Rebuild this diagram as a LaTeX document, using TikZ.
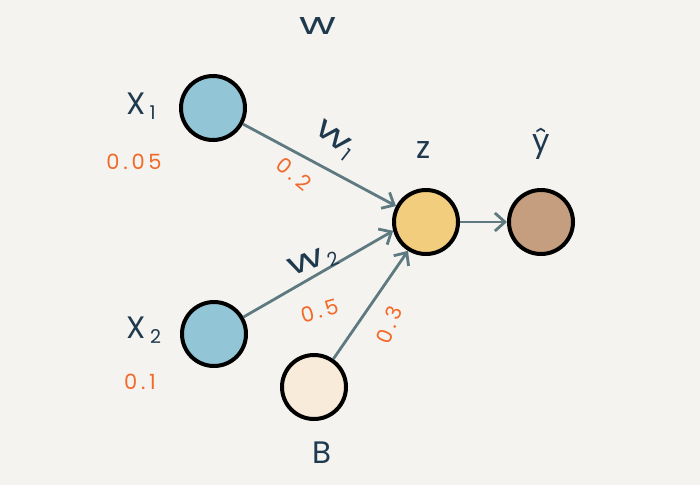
\documentclass[tikz,border=0pt]{standalone}
\usepackage{fontspec}
\setmainfont{Poppins}
\usetikzlibrary{arrows.meta}
\definecolor{bg}{HTML}{F4F3EF}
\definecolor{xblue}{HTML}{92C5D5}
\definecolor{zyel}{HTML}{F3CD7E}
\definecolor{ybrown}{HTML}{C49E7E}
\definecolor{bcream}{HTML}{F8EBD9}
\definecolor{edgec}{HTML}{5E7A80}
\definecolor{navy}{HTML}{1F3A4F}
\definecolor{orng}{HTML}{F26A2A}
\tikzset{
  neuron/.style={circle, draw=black, line width=4pt, minimum size=64pt, inner sep=0pt},
  conn/.style={draw=edgec, line width=2.8pt, -{Straight Barb[length=10pt,width=18pt,line width=2.8pt]}},
  lbl/.style={text=navy, font=\fontsize{31}{31}\selectfont, inner sep=0pt},
  num/.style={text=orng, font=\fontsize{21}{21}\selectfont\addfontfeature{LetterSpace=18}, inner sep=0pt},
}
\newcommand{\sbs}[1]{\raisebox{-0.3ex}{\fontsize{19}{19}\selectfont #1}}
\newcommand{\ww}{\scalebox{1.45}[1]{w}}
\begin{document}
\begin{tikzpicture}[x=1pt,y=-1pt]
\fill[bg] (0,0) rectangle (700,485);
\useasboundingbox (0,0) rectangle (700,485);
\node[neuron, fill=xblue] (x1) at (213,108) {};
\node[neuron, fill=xblue] (x2) at (214,334) {};
\node[neuron, fill=bcream] (b) at (314,387) {};
\node[neuron, fill=zyel] (z) at (426,222) {};
\node[neuron, fill=ybrown] (yh) at (541,222) {};
\draw[conn] (x1) -- (z.152);
\draw[conn] (x2) -- (z.195);
\draw[conn] (b) -- (z.238);
\draw[conn] (z) -- (yh);
\node[lbl] (wt) at (318,26) {\ww};
\node[lbl] (x1l) at (141,106) {X\hspace{4pt}\sbs{1}};
\node[num] (x1n) at (134,162) {0.05};
\node[lbl] (x2l) at (144,330) {X\hspace{4pt}\sbs{2}};
\node[num] (x2n) at (140,382) {0.1};
\node[lbl, rotate=-38] (w1) at (334,140) {\ww\hspace{1pt}\sbs{1}};
\node[num, rotate=-40] (n1) at (294,174) {0.2};
\node[lbl, rotate=20] (w2) at (313,262) {\ww\hspace{3pt}\sbs{2}};
\node[num, rotate=15] (n2) at (320,311) {0.5};
\node[num, rotate=68] (n3) at (389,325) {0.3};
\node[lbl] (zl) at (424,150) {z};
\node[lbl] (yl) at (541,144) {ŷ};
\node[lbl] (bl) at (322,453) {B};
\end{tikzpicture}
\end{document}
